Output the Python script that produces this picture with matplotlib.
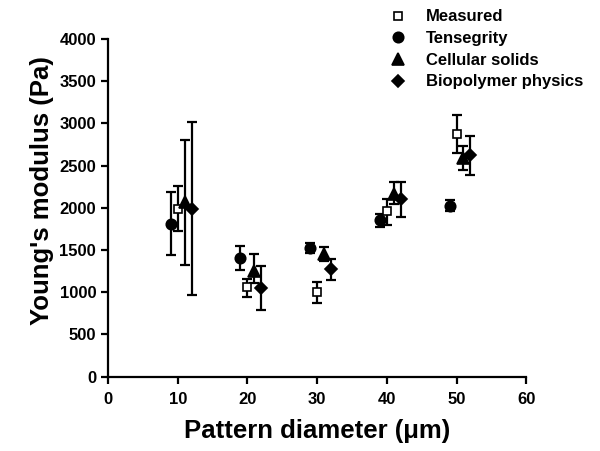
import matplotlib.pyplot as plt

# pattern diameters (um), each model is shifted a bit around the measured point
diameters = [10, 20, 30, 40, 50]
shift_tens = -1
shift_cell = 1
shift_bio = 2

measured = [1990, 1060, 1005, 1960, 2875]
measured_lo = [1723, 945, 877, 1798, 2649]
measured_hi = [2261, 1154, 1115, 2103, 3096]

tensegrity = [1806, 1407, 1526, 1855, 2025]
tensegrity_lo = [1439, 1261, 1470, 1778, 1960]
tensegrity_hi = [2190, 1545, 1580, 1930, 2090]

cellular = [2071, 1253, 1447, 2165, 2595]
cellular_lo = [1328, 1110, 1370, 2050, 2443]
cellular_hi = [2802, 1458, 1534, 2300, 2728]

biopolymer = [1984, 1051, 1273, 2100, 2625]
biopolymer_lo = [972, 787, 1150, 1889, 2392]
biopolymer_hi = [3012, 1312, 1399, 2300, 2855]

plt.rcParams['font.family'] = ['Liberation Sans', 'DejaVu Sans']
plt.rcParams['font.weight'] = 'bold'

fig = plt.figure(figsize=(6, 4.51), dpi=100)
ax = fig.add_axes([0.18, 0.165, 0.697, 0.7485])

def draw(shift, vals, lo, hi, marker, label, ms, face='black'):
    x = [d + shift for d in diameters]
    err = [[v - l for v, l in zip(vals, lo)], [h - v for v, h in zip(vals, hi)]]
    ax.errorbar(x, vals, yerr=err, fmt='none', ecolor='black', elinewidth=1.6,
                capsize=3.5, capthick=1.6, zorder=2)
    ax.plot(x, vals, linestyle='none', marker=marker, markersize=ms,
            markerfacecolor=face, markeredgecolor='black', markeredgewidth=1.2,
            label=label, zorder=3)

draw(0, measured, measured_lo, measured_hi, 's', 'Measured', 6, face='white')
draw(shift_tens, tensegrity, tensegrity_lo, tensegrity_hi, 'o', 'Tensegrity', 7.5)
draw(shift_cell, cellular, cellular_lo, cellular_hi, '^', 'Cellular solids', 8)
draw(shift_bio, biopolymer, biopolymer_lo, biopolymer_hi, 'D', 'Biopolymer physics', 6.5)

ax.set_xlim(0, 60)
ax.set_ylim(0, 4000)
ax.set_xticks(range(0, 61, 10))
ax.set_yticks(range(0, 4001, 500))
for s in ['top', 'right']:
    ax.spines[s].set_visible(False)
for s in ['left', 'bottom']:
    ax.spines[s].set_linewidth(1.6)
ax.tick_params(direction='out', length=5, width=1.6, labelsize=12)
ax.tick_params(axis='x', pad=6)
for t in ax.get_xticklabels() + ax.get_yticklabels():
    t.set_fontweight('bold')

ax.set_xlabel('Pattern diameter (\u03bcm)', fontsize=18.5, fontweight='bold', labelpad=9)
ax.set_ylabel("Young's modulus (Pa)", fontsize=18.5, fontweight='bold')
ax.yaxis.set_label_coords(-0.128, 0.55)

fig.legend(loc='upper left', bbox_to_anchor=(0.627, 1.005), frameon=False,
           handlelength=1.2, handletextpad=1.1, labelspacing=0.4,
           prop={'size': 12, 'weight': 'bold'}, borderpad=0.2)

plt.savefig('out.png', dpi=100)
